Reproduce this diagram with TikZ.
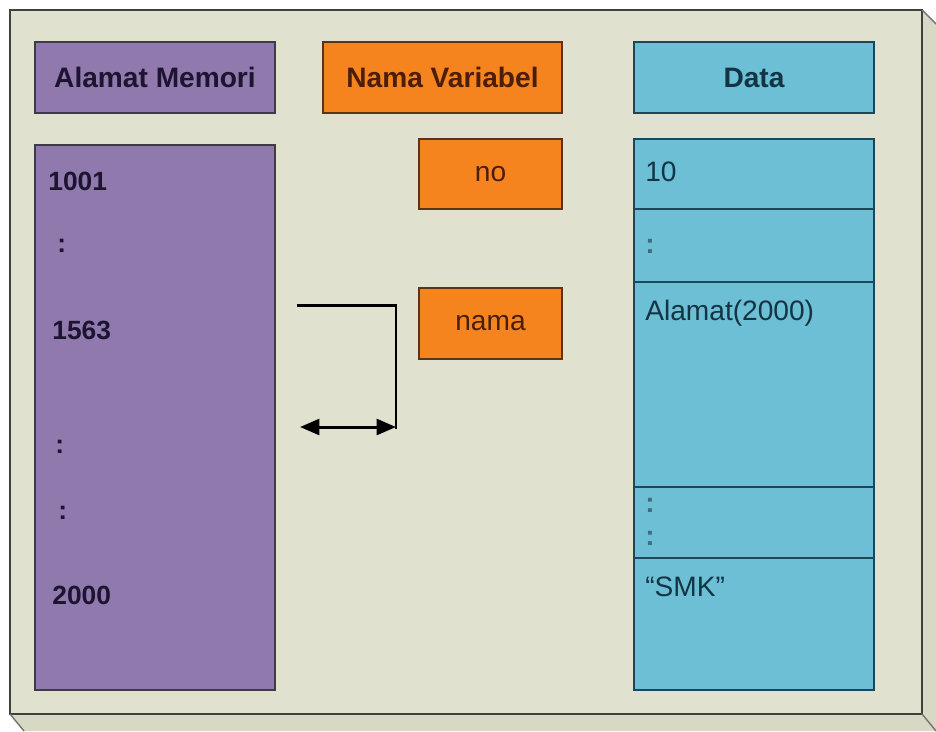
\documentclass[tikz,border=0pt]{standalone}
\usepackage{fontspec}
\setmainfont{Liberation Sans}
\usetikzlibrary{arrows.meta}
\definecolor{facebg}{HTML}{E0E1CE}
\definecolor{bevelbg}{HTML}{D8D9C4}
\definecolor{purp}{HTML}{9079AD}
\definecolor{purpline}{HTML}{3E3A48}
\definecolor{purptext}{HTML}{1C1430}
\definecolor{oran}{HTML}{F5841F}
\definecolor{oranline}{HTML}{5A3418}
\definecolor{orantext}{HTML}{4A1E08}
\definecolor{blu}{HTML}{6CBFD5}
\definecolor{bluline}{HTML}{1D4656}
\definecolor{blutext}{HTML}{123444}
\definecolor{dotgrey}{HTML}{3E6C80}

\begin{document}
\begin{tikzpicture}[x=0.02cm,y=-0.02cm,
  every node/.style={font=\fontsize{16}{18}\selectfont},
  cellbox/.style={rectangle,line width=1.3pt,inner sep=0pt,minimum width=4.8cm},
  purpbox/.style={cellbox,fill=purp,draw=purpline,text=purptext},
  oranbox/.style={cellbox,fill=oran,draw=oranline,text=orantext},
  blubox/.style={cellbox,fill=blu,draw=bluline,text=blutext},
  addr/.style={anchor=west,inner sep=0pt,text=purptext,font=\fontsize{15}{18}\selectfont\bfseries},
  datum/.style={anchor=west,inner sep=0pt,text=blutext},
  ptr/.style={line width=1.7pt,black}]
  \useasboundingbox (0,0) rectangle (936,731);
  \fill[white] (0,0) rectangle (936,731);

  % frame
  \fill[bevelbg] (922,10) -- (936,24) -- (936,731) -- (24,731) -- (10,714) -- (922,714) -- cycle;
  \fill[facebg] (10,10) rectangle (922,714);
  \draw[line width=1.6pt,black!75] (10,714) -- (10,10) -- (922,10) -- (922,714) -- cycle;
  \draw[line width=0.8pt,black!55] (922,10) -- (936,24);
  \draw[line width=0.8pt,black!55] (922,714) -- (936,731);
  \draw[line width=0.8pt,black!55] (10,714) -- (24,731);

  % headers
  \node[purpbox,minimum height=1.42cm] (hdrAlamat) at (155,77.5) {\bfseries Alamat Memori};
  \node[oranbox,minimum width=4.78cm,minimum height=1.42cm] (hdrNama) at (442.5,77.5) {\bfseries Nama Variabel};
  \node[blubox,minimum height=1.42cm] (hdrData) at (754,77.5) {\bfseries Data};

  % alamat memori
  \node[purpbox,minimum height=10.9cm] (mem) at (155,417.5) {};
  \node[addr] (a1001) at (48,181) {1001};
  \node[addr] (dotA) at (57,246) {:};
  \node[addr] (a1563) at (52,330) {1563};
  \node[addr] (dotB) at (55,447) {:};
  \node[addr] (dotC) at (58,513) {:};
  \node[addr] (a2000) at (52,595) {2000};

  % nama variabel
  \node[oranbox,minimum width=2.86cm,minimum height=1.4cm] (varNo) at (490.5,174) {no};
  \node[oranbox,minimum width=2.86cm,minimum height=1.42cm] (varNama) at (490.5,323.5) {nama};

  % data
  \node[blubox,minimum height=1.4cm] (cell1) at (754,174) {};
  \node[blubox,minimum height=1.46cm] (cell2) at (754,245.5) {};
  \node[blubox,minimum height=4.1cm] (cell3) at (754,384.5) {};
  \node[blubox,minimum height=1.42cm] (cell4) at (754,522.5) {};
  \node[blubox,minimum height=2.64cm] (cell5) at (754,624) {};
  \node[datum] (dNo) at (645,172) {10};
  \node[datum,text=dotgrey] (dDotA) at (645,246) {\bfseries :};
  \node[datum] (dNama) at (645,313) {Alamat(2000)};
  \node[datum,text=dotgrey] (dDotB) at (645,505) {\bfseries :};
  \node[datum,text=dotgrey] (dDotC) at (645,538) {\bfseries :};
  \node[datum] (dSmk) at (645,587) {“SMK”};

  % pointer
  \coordinate (ptrStart) at (298,305);
  \coordinate (ptrBend) at (396,305);
  \coordinate (ptrCorner) at (396,427);
  \coordinate (ptrEnd) at (300,427);
  \draw[ptr,line cap=rect] (ptrStart) -- (ptrBend) -- (ptrCorner);
  \draw[ptr,{Triangle[length=11pt,width=9pt]}-{Triangle[length=11pt,width=9pt]}] (ptrEnd) -- (ptrCorner);
\end{tikzpicture}
\end{document}
